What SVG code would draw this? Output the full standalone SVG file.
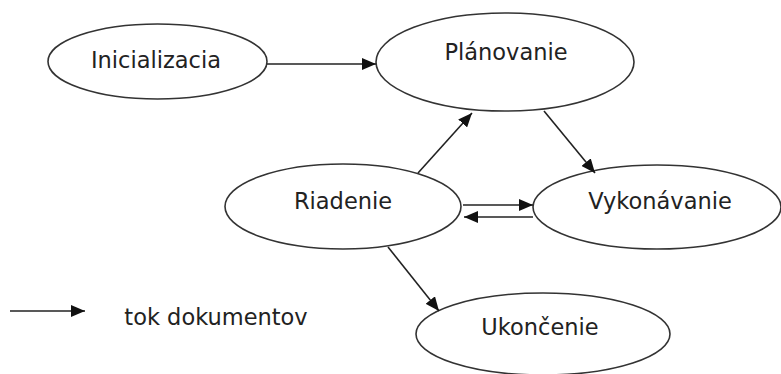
<svg xmlns="http://www.w3.org/2000/svg" width="781" height="374" viewBox="0 0 781 374">
<style>
.node ellipse{fill:#fff;stroke:#333;stroke-width:1.6}
.node text,.legend text{font-family:"DejaVu Sans",sans-serif;font-size:22.5px;fill:#222;text-anchor:middle}
.edges line{stroke:#222;stroke-width:1.6}
</style>
<defs>
<marker id="ah" viewBox="0 0 14 12" refX="14" refY="6" markerWidth="14" markerHeight="12" markerUnits="userSpaceOnUse" orient="auto">
<path d="M0,0 L14,6 L0,12 Z" fill="#111"/>
</marker>
</defs>
<rect width="781" height="374" fill="#fff"/>
<g id="n-inicializacia" class="node">
<ellipse cx="157.5" cy="61.5" rx="109.5" ry="37.5"/>
<text x="156" y="68">Inicializacia</text>
</g>
<g id="n-planovanie" class="node">
<ellipse cx="505" cy="62" rx="129" ry="49"/>
<text x="506" y="60">Plánovanie</text>
</g>
<g id="n-riadenie" class="node">
<ellipse cx="343" cy="206.5" rx="118" ry="42.5"/>
<text x="343" y="209">Riadenie</text>
</g>
<g id="n-vykonavanie" class="node">
<ellipse cx="657" cy="207" rx="124" ry="42"/>
<text x="660" y="209">Vykonávanie</text>
</g>
<g id="n-ukoncenie" class="node">
<ellipse cx="543" cy="334" rx="127" ry="41"/>
<text x="540" y="335">Ukončenie</text>
</g>
<g id="edges" class="edges">
<line x1="267" y1="64" x2="376" y2="64" marker-end="url(#ah)"/>
<line x1="418" y1="173" x2="472" y2="113" marker-end="url(#ah)"/>
<line x1="544" y1="111" x2="595" y2="173" marker-end="url(#ah)"/>
<line x1="463" y1="205" x2="533" y2="205" marker-end="url(#ah)"/>
<line x1="533" y1="217" x2="464" y2="217" marker-end="url(#ah)"/>
<line x1="388" y1="247" x2="439" y2="311" marker-end="url(#ah)"/>
</g>
<g id="legend" class="legend">
<g class="edges"><line x1="10" y1="311" x2="85" y2="311" marker-end="url(#ah)"/></g>
<text x="216" y="325">tok dokumentov</text>
</g>
</svg>
